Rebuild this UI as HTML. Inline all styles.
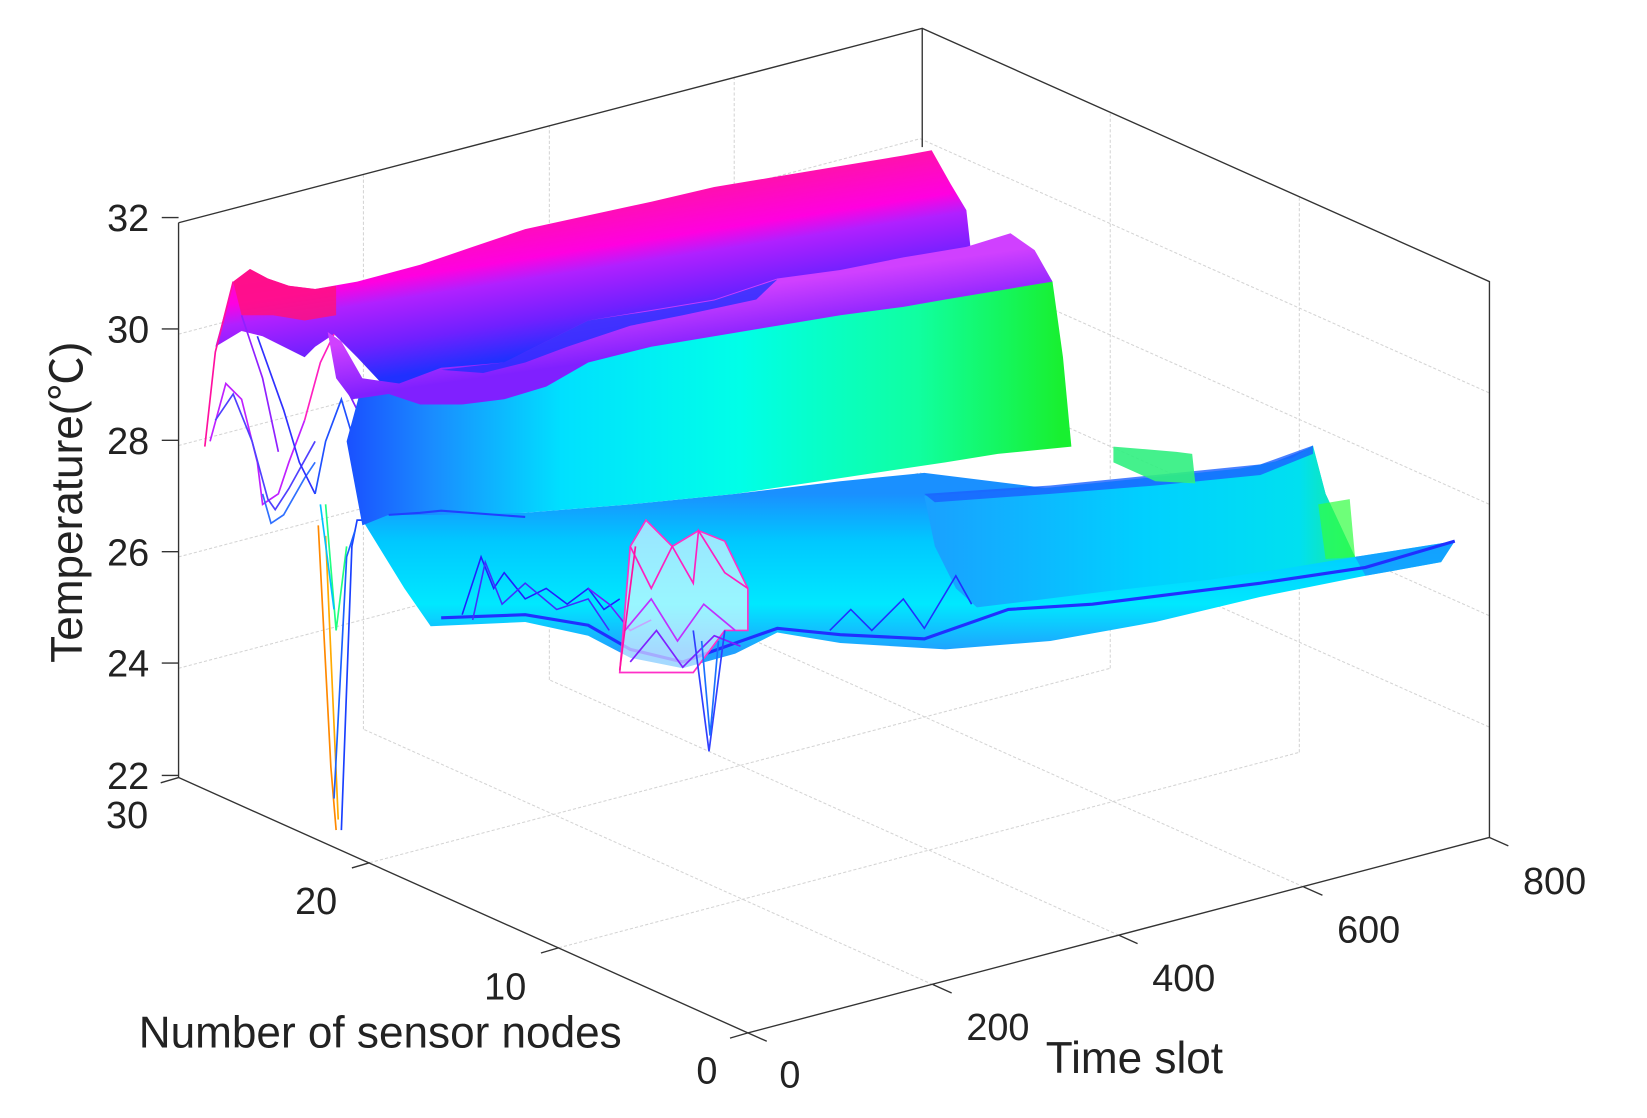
<!DOCTYPE html>
<html><head><meta charset="utf-8"><style>
html,body{margin:0;padding:0;background:#fff;}
svg{display:block;}
text{font-family:"Liberation Sans",Arial,sans-serif;fill:#222;}
</style></head><body>
<svg width="1647" height="1118" viewBox="0 0 1568 1064" preserveAspectRatio="none" xmlns="http://www.w3.org/2000/svg">
<defs>
<linearGradient id="gA" gradientUnits="userSpaceOnUse" x1="540" y1="200" x2="560" y2="330">
<stop offset="0" stop-color="#ff10b0"/><stop offset="0.3" stop-color="#ff00e0"/><stop offset="0.45" stop-color="#b020ff"/><stop offset="0.75" stop-color="#7020ff"/><stop offset="1" stop-color="#2030ff"/></linearGradient>
<linearGradient id="gB" gradientUnits="userSpaceOnUse" x1="330" y1="0" x2="1010" y2="0">
<stop offset="0" stop-color="#1a50ff"/><stop offset="0.12" stop-color="#1a8cff"/><stop offset="0.3" stop-color="#00e0ff"/><stop offset="0.55" stop-color="#00ffe8"/><stop offset="0.8" stop-color="#10ffa0"/><stop offset="1" stop-color="#18f030"/></linearGradient>
<linearGradient id="gBtop" gradientUnits="userSpaceOnUse" x1="650" y1="282" x2="657" y2="332">
<stop offset="0" stop-color="#d040ff"/><stop offset="1" stop-color="#8020ff"/></linearGradient>
<linearGradient id="gC" gradientUnits="userSpaceOnUse" x1="0" y1="470" x2="0" y2="620">
<stop offset="0" stop-color="#1a90ff"/><stop offset="0.3" stop-color="#00c8ff"/><stop offset="0.7" stop-color="#00e8ff"/><stop offset="1" stop-color="#20a0ff"/></linearGradient>
<linearGradient id="gD" gradientUnits="userSpaceOnUse" x1="880" y1="0" x2="1300" y2="0">
<stop offset="0" stop-color="#1aa0ff"/><stop offset="0.5" stop-color="#00d0ff"/><stop offset="0.85" stop-color="#00e0f0"/><stop offset="1" stop-color="#20f080"/></linearGradient>
</defs>

<g stroke="#d4d4d4" stroke-width="1" stroke-dasharray="3,2" fill="none">
<line x1="170" y1="318" x2="876" y2="132"/>
<line x1="170" y1="424" x2="876" y2="238"/>
<line x1="170" y1="530" x2="876" y2="344"/>
<line x1="170" y1="636" x2="876" y2="450"/>
<line x1="346" y1="166" x2="346" y2="694"/>
<line x1="523" y1="119" x2="523" y2="647"/>
<line x1="699" y1="73" x2="699" y2="601"/>
<line x1="876" y1="132" x2="1418" y2="374"/>
<line x1="876" y1="238" x2="1418" y2="480"/>
<line x1="876" y1="344" x2="1418" y2="586"/>
<line x1="876" y1="450" x2="1418" y2="692"/>
<line x1="1057" y1="108" x2="1057" y2="636"/>
<line x1="1237" y1="188" x2="1237" y2="716"/>
<line x1="352" y1="821" x2="1057" y2="636"/>
<line x1="532" y1="902" x2="1237" y2="716"/>
<line x1="888" y1="937" x2="346" y2="694"/>
<line x1="1065" y1="890" x2="523" y2="647"/>
<line x1="1241" y1="844" x2="699" y2="601"/>
</g>

<g stroke="#333" stroke-width="1.3" fill="none">
<polyline points="170,212 878,27 1418,268 1418,797"/>
<line x1="878" y1="27" x2="878" y2="140"/>
<line x1="170" y1="212" x2="170" y2="740"/>
</g>

<polygon fill="url(#gA)" points="205,330 222,268 238,256 255,265 275,272 300,275 340,268 400,252 450,235 500,218 560,205 620,192 680,178 740,168 800,158 860,148 887,143 905,175 920,200 925,245 960,250 900,262 800,280 700,300 600,320 500,348 430,365 370,372 340,340 318,318 300,330 290,340 270,330 250,320 230,315"/>
<polygon fill="#ff1080" opacity="0.85" points="222,268 238,256 255,265 275,272 300,275 320,272 320,300 290,305 260,300 230,300"/>
<g fill="none" stroke-width="1.6">
<polyline stroke="#ff10a0" points="195,425 205,335 222,268"/>
<polyline stroke="#c020ff" points="200,420 215,365 230,380 245,440 250,480 265,470 275,440 290,400"/>
<polyline stroke="#5040ff" points="205,400 222,375 240,420 255,475 262,485 275,465 300,420"/>
<polyline stroke="#3070ff" points="250,470 258,498 270,490 290,455 300,440"/>
<polyline stroke="#9020ff" points="230,300 250,360 265,430"/>
<polyline stroke="#3030ff" points="245,320 270,390 285,440 300,470"/>
<polyline stroke="#ff20c0" points="290,400 305,345 318,318"/>
<polyline stroke="#2050ff" points="300,470 310,420 325,380 340,430 345,495"/>
<polyline stroke="#8020ff" points="318,330 330,370 345,400"/>
<polyline stroke="#ff8800" points="303,500 315,730 320,790"/>
<polyline stroke="#ffaa00" points="310,510 322,780"/>
<polyline stroke="#20ff80" points="310,480 320,600 330,520"/>
<polyline stroke="#1a40ff" points="325,790 335,520 340,495 346,495"/>
<polyline stroke="#1a60ff" points="318,760 330,530 338,505"/>
<polyline stroke="#00c0ff" points="305,480 318,580"/>
</g>

<polygon fill="url(#gC)" points="345,495 370,486 420,486 500,488 600,480 700,470 800,458 880,450 1000,465 1100,455 1200,445 1250,425 1262,470 1290,530 1385,515 1372,535 1300,548 1200,568 1100,592 1000,610 900,618 800,612 740,602 700,622 650,636 600,626 560,605 500,592 410,596 385,560"/>
<polygon fill="url(#gB)" points="330,420 345,365 380,370 420,355 480,350 520,330 560,310 620,300 680,290 740,270 800,262 860,250 920,240 962,224 985,240 1002,268 1012,340 1020,425 950,432 900,440 800,455 700,470 600,480 500,488 420,490 370,490 345,500"/>
<polygon fill="url(#gBtop)" points="312,316 325,325 345,360 380,365 420,350 480,345 520,325 560,305 620,295 680,285 740,265 800,257 860,245 920,235 962,222 985,238 1002,268 960,275 900,285 860,292 800,300 740,310 680,320 620,330 560,345 520,368 480,380 440,385 400,385 370,375 350,378 335,380 320,360"/>
<polygon fill="#1a30ff" opacity="0.75" points="420,352 480,345 520,325 560,305 620,296 680,286 740,266 720,285 650,300 600,310 540,330 500,345 460,355"/>

<polygon fill="url(#gD)" points="880,472 940,468 1000,464 1060,458 1120,452 1180,446 1230,436 1250,424 1262,470 1290,530 1230,540 1150,552 1060,562 980,572 930,578 910,560 890,520"/>
<polygon fill="#1a60ff" opacity="0.8" points="880,470 1000,462 1100,452 1200,442 1250,424 1250,432 1200,452 1100,462 1000,470 890,478"/>
<polygon fill="#30f080" opacity="0.9" points="1060,425 1120,430 1135,432 1138,460 1100,458 1060,440"/>
<polygon fill="#30ff40" opacity="0.7" points="1255,480 1285,475 1290,530 1262,532"/>
<polygon fill="#1a90ff" opacity="0.7" points="1290,530 1385,515 1372,535 1300,548"/>
<polyline fill="none" stroke="#2030ff" stroke-width="3" points="420,588 500,585 560,595 600,618 650,630 700,612 740,598 800,604 880,608 960,580 1040,575 1120,565 1200,555 1300,540 1385,515"/>
<polyline fill="none" stroke="#2040ff" stroke-width="2" points="370,490 400,488 420,486 500,492"/>
<g fill="none" stroke-width="1.5">
<polyline stroke="#2020ff" points="440,585 458,530 470,560 480,545 500,570 520,560 540,575 560,560 575,580 590,570"/>
<polyline stroke="#4030ff" points="450,590 462,535 478,575 500,555 530,580 560,570 580,600"/>
<polyline stroke="#7020ff" points="560,560 580,575 600,600 620,590"/>
</g>
<g fill="none" stroke-width="1.6">
<polygon fill="#fff" fill-opacity="0.6" stroke="#ff30c8" points="590,640 600,520 615,495 640,520 665,505 690,515 712,560 712,600 690,600 660,640"/>
<polyline stroke="#ff20c0" points="600,520 620,560 640,520 660,555 665,505 690,545 712,560"/>
<polyline stroke="#c030ff" points="595,600 620,570 645,610 670,575 700,600"/>
<polyline stroke="#8020ff" points="600,630 625,600 650,635 680,605 705,615"/>
<polyline stroke="#ff10a0" points="590,638 605,520"/>
<polyline stroke="#3040ff" points="660,600 675,715 690,600"/>
<polyline stroke="#1a70ff" points="668,610 676,700 684,610"/>
</g>
<g fill="none" stroke="#2030ff" stroke-width="1.5">
<polyline points="790,600 810,580 830,600 860,570 880,598 910,548 925,575"/>
</g>

<g stroke="#333" stroke-width="1.3" fill="none">
<polyline points="170,740 712,983 1418,797"/>
</g>
<g stroke="#333" stroke-width="1.3">
<line x1="154" y1="207" x2="170" y2="207"/><line x1="154" y1="313" x2="170" y2="313"/>
<line x1="154" y1="419" x2="170" y2="419"/><line x1="154" y1="525" x2="170" y2="525"/>
<line x1="154" y1="631" x2="170" y2="631"/><line x1="154" y1="738" x2="170" y2="738"/>
<line x1="170" y1="740" x2="153" y2="745"/><line x1="352" y1="821" x2="335" y2="826"/>
<line x1="532" y1="902" x2="515" y2="907"/><line x1="712" y1="983" x2="695" y2="988"/>
<line x1="712" y1="983" x2="730" y2="991"/><line x1="888" y1="937" x2="906" y2="945"/>
<line x1="1065" y1="890" x2="1083" y2="898"/><line x1="1241" y1="844" x2="1259" y2="852"/>
<line x1="1418" y1="797" x2="1436" y2="805"/>
</g>
<g font-size="36" text-anchor="end">
<text x="142" y="220">32</text><text x="142" y="326">30</text><text x="142" y="432">28</text>
<text x="142" y="538">26</text><text x="142" y="644">24</text><text x="142" y="751">22</text>
<text x="141" y="788">30</text><text x="321" y="870">20</text><text x="501" y="951">10</text><text x="683" y="1031">0</text>
</g>
<g font-size="36" text-anchor="middle">
<text x="752" y="1035">0</text><text x="950" y="990">200</text><text x="1127" y="943">400</text>
<text x="1303" y="897">600</text><text x="1480" y="851">800</text>
</g>
<text x="362" y="997" font-size="42" text-anchor="middle">Number of sensor nodes</text>
<text x="1080" y="1021" font-size="42" text-anchor="middle">Time slot</text>
<text transform="translate(78,478) rotate(-90)" font-size="42" text-anchor="middle">Temperature(<tspan font-family="'Noto Sans CJK SC',sans-serif">℃</tspan>)</text>
</svg>
</body></html>
